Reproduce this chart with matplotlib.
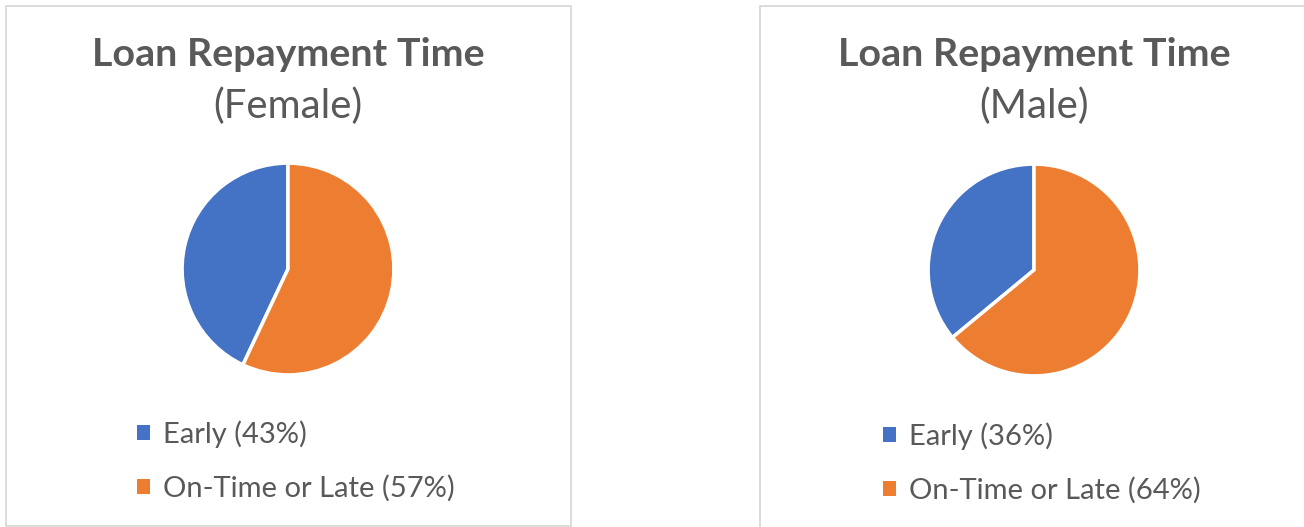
import matplotlib.pyplot as plt
from matplotlib.patches import Patch, Rectangle

# data
labels = ["Early", "On-Time or Late"]
female = [43, 57]
male = [36, 64]
groups = ["Female", "Male"]
colors = ["#4472C4", "#ED7D31"]

W, H = 1304, 527
text_color = "#595959"
border_color = "#D9D9D9"

fig = plt.figure(figsize=(W / 100, H / 100), dpi=100)
fig.patch.set_facecolor("white")


def fx(px):
    return px / W


def fy(py):
    return 1 - py / H


# panel frames (pixel boxes: x0, y0, x1, y1)
panels = [(6, 6, 571, 526), (760, 6, 1310, 532)]
for x0, y0, x1, y1 in panels:
    fig.patches.append(Rectangle((fx(x0), fy(y1)), fx(x1 - x0), (y1 - y0) / H,
                                 transform=fig.transFigure, fill=False,
                                 edgecolor=border_color, linewidth=1.3))

centers = [(288, 269), (1034, 270)]
legend_pos = [(137, 420), (883, 422)]
radius = 106

for values, group, (cx, cy), (lx, ly) in zip([female, male], groups, centers, legend_pos):
    ax = fig.add_axes([fx(cx - radius - 2), fy(cy + radius + 2),
                       fx(2 * radius + 4), (2 * radius + 4) / H])
    ax.pie(values, colors=colors, startangle=90, counterclock=True,
           wedgeprops=dict(edgecolor="white", linewidth=2.5))
    ax.set_xlim(-1.02, 1.02)
    ax.set_ylim(-1.02, 1.02)
    ax.set_aspect("equal")
    ax.axis("off")

    fig.text(fx(cx), fy(54), "Loan Repayment Time", ha="center", va="center",
             fontsize=28.4, fontweight="bold", color=text_color, family="Lato")
    fig.text(fx(cx), fy(106), f"({group})", ha="center", va="center",
             fontsize=29, color=text_color, family="Lato")

    handles = [Patch(facecolor=c, edgecolor="none") for c in colors]
    names = [f"{l} ({v}%)" for l, v in zip(labels, values)]
    leg = fig.legend(handles, names, loc="upper left", bbox_to_anchor=(fx(lx), fy(ly)),
                     bbox_transform=fig.transFigure, frameon=False,
                     prop=dict(family="Lato", size=21), labelcolor=text_color,
                     handlelength=0.43, handleheight=0.43, handletextpad=0.45,
                     labelspacing=0.93, borderpad=0, borderaxespad=0)

fig.savefig("out.png", dpi=100)
